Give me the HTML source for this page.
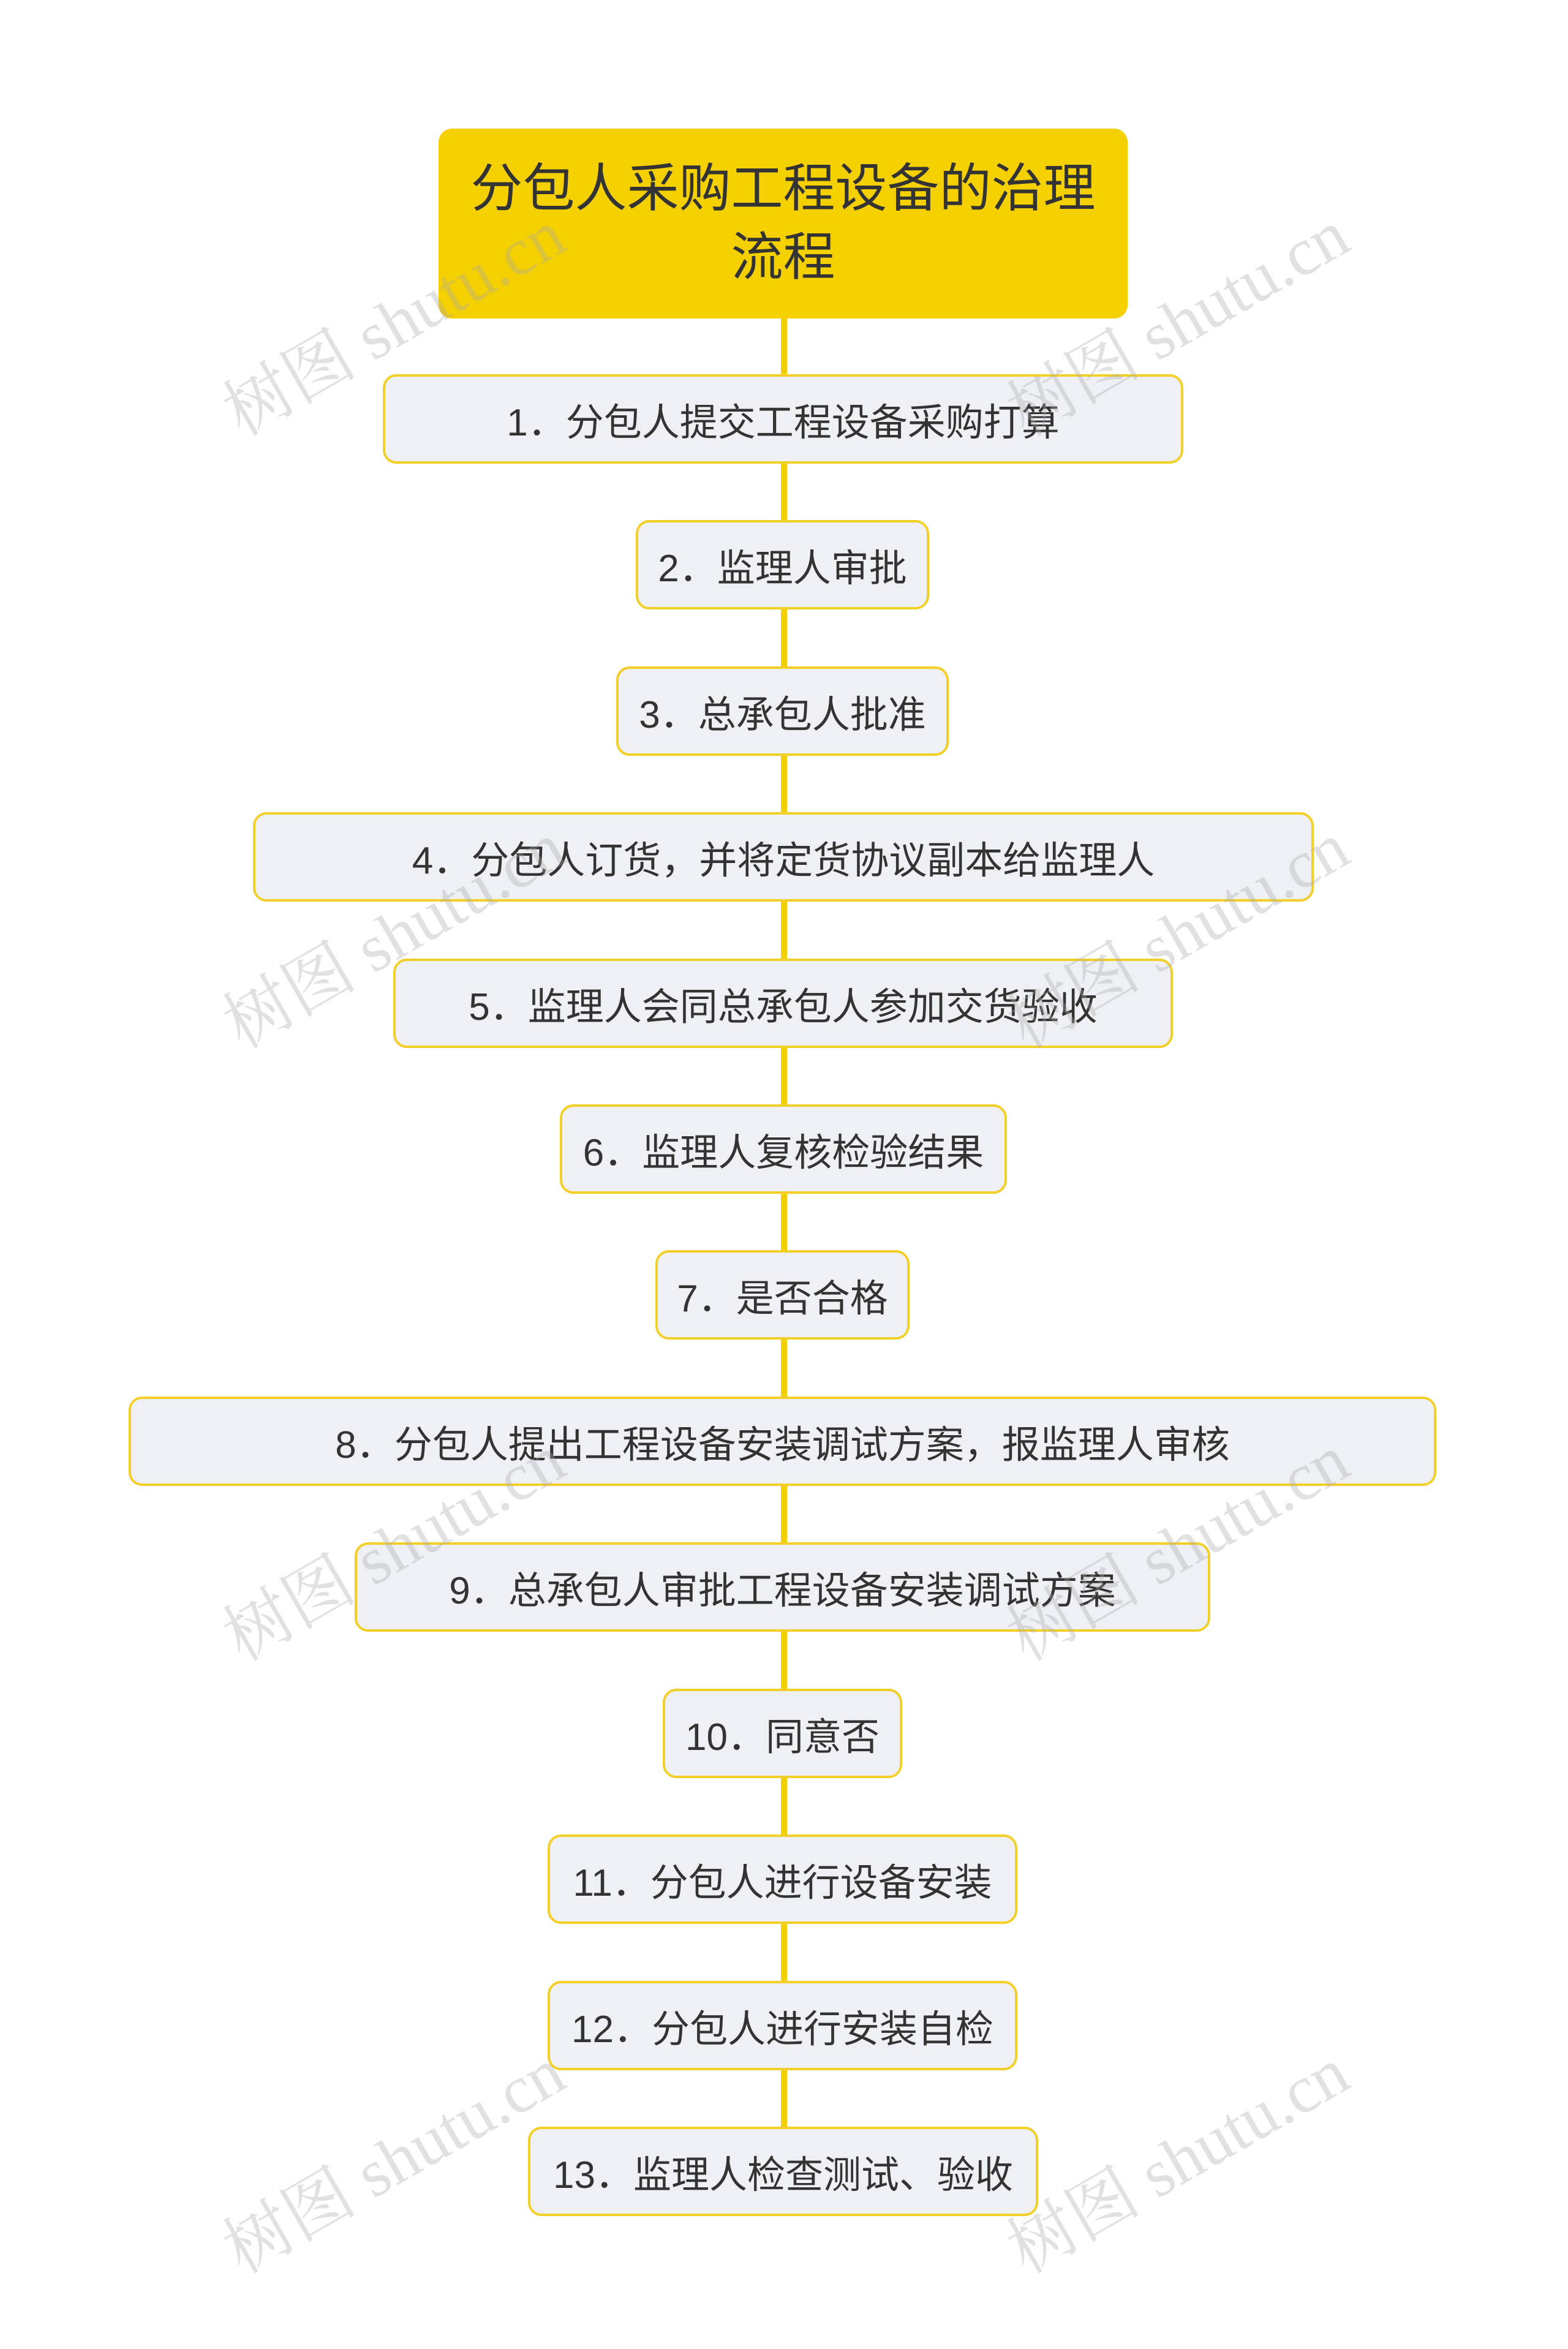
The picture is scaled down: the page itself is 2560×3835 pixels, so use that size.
<!DOCTYPE html>
<html><head><meta charset="utf-8">
<style>
html,body{margin:0;padding:0;background:#fff;}
body{width:2560px;height:3835px;position:relative;overflow:hidden;font-family:"Liberation Sans","Noto Sans CJK SC",sans-serif;}
.line{position:absolute;left:1275px;width:10px;top:500px;height:3000px;background:#f5d000;}
.root{position:absolute;left:716px;top:210px;width:1125px;height:310px;background:#f5d000;border-radius:22px;display:flex;align-items:center;justify-content:center;text-align:center;font-size:85px;line-height:112px;color:#333;}
.b{position:absolute;height:138px;background:#eef0f3;border:4px solid #f3cf2a;border-radius:22px;display:flex;align-items:center;justify-content:center;font-size:62px;color:#333;white-space:nowrap;}
.wm{position:absolute;font-family:"Liberation Serif","Noto Serif CJK SC",serif;font-size:110px;color:rgba(170,170,170,0.35);transform:rotate(-30deg);transform-origin:center;white-space:nowrap;}
</style></head><body>
<div class="line"></div>
<div class="root">分包人采购工程设备的治理<br>流程</div>
<div class="b" style="left:625px;top:611px;width:1299px">1．分包人提交工程设备采购打算</div>
<div class="b" style="left:1038px;top:849px;width:471px">2．监理人审批</div>
<div class="b" style="left:1006px;top:1088px;width:535px">3．总承包人批准</div>
<div class="b" style="left:413px;top:1326px;width:1724px">4．分包人订货，并将定货协议副本给监理人</div>
<div class="b" style="left:642px;top:1565px;width:1265px">5．监理人会同总承包人参加交货验收</div>
<div class="b" style="left:914px;top:1803px;width:722px">6．监理人复核检验结果</div>
<div class="b" style="left:1070px;top:2041px;width:407px">7．是否合格</div>
<div class="b" style="left:210px;top:2280px;width:2127px">8．分包人提出工程设备安装调试方案，报监理人审核</div>
<div class="b" style="left:579px;top:2518px;width:1389px">9．总承包人审批工程设备安装调试方案</div>
<div class="b" style="left:1082px;top:2757px;width:383px">10．同意否</div>
<div class="b" style="left:894px;top:2995px;width:759px">11．分包人进行设备安装</div>
<div class="b" style="left:894px;top:3234px;width:759px">12．分包人进行安装自检</div>
<div class="b" style="left:862px;top:3472px;width:825px">13．监理人检查测试、验收</div>
<div class="wm" style="left:330px;top:440px">树图 shutu.cn</div>
<div class="wm" style="left:1610px;top:440px">树图 shutu.cn</div>
<div class="wm" style="left:330px;top:1440px">树图 shutu.cn</div>
<div class="wm" style="left:1610px;top:1440px">树图 shutu.cn</div>
<div class="wm" style="left:330px;top:2440px">树图 shutu.cn</div>
<div class="wm" style="left:1610px;top:2440px">树图 shutu.cn</div>
<div class="wm" style="left:330px;top:3440px">树图 shutu.cn</div>
<div class="wm" style="left:1610px;top:3440px">树图 shutu.cn</div>
</body></html>
